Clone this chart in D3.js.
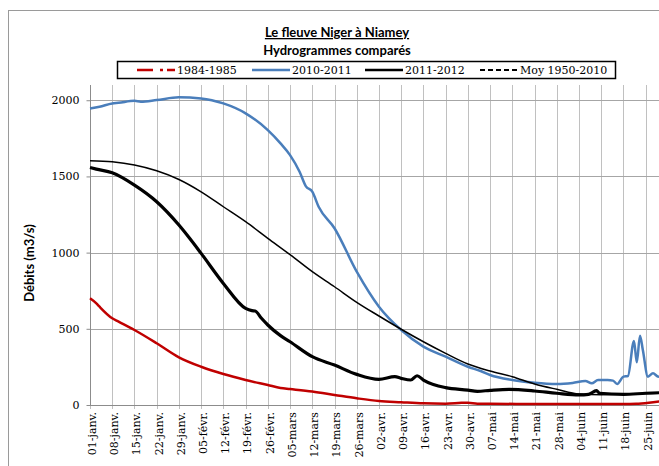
<!DOCTYPE html>
<html lang="fr">
<head>
    <meta charset="UTF-8">
    <title>Le fleuve Niger à Niamey</title>
    <script src="https://d3js.org/d3.v7.min.js"></script>
    <style>
        body {
            margin: 0;
            background: #fff;
        }
        svg {
            display: block;
        }
        .title {
            font-family: Lato, "Open Sans", sans-serif;
            font-weight: bold;
            font-size: 13px;
            fill: #000;
        }
        .num {
            font-family: "DejaVu Serif", serif;
            font-size: 11px;
            fill: #000;
        }
    </style>
</head>
<body>
    <svg id="chart" width="659" height="466"></svg>

    <script>
        // x labels: one every 7 days starting 01-janv.
        const tickLabels = ["01-janv.", "08-janv.", "15-janv.", "22-janv.", "29-janv.", "05-févr.",
            "12-févr.", "19-févr.", "26-févr.", "05-mars", "12-mars", "19-mars", "26-mars",
            "02-avr.", "09-avr.", "16-avr.", "23-avr.", "30-avr.", "07-mai", "14-mai",
            "21-mai", "28-mai", "04-juin", "11-juin", "18-juin", "25-juin"];
        const yTicks = [0, 500, 1000, 1500, 2000];

        // day offsets from 01-janv. and discharges (m3/s)
        const days1984 = [0, 2, 3, 7, 9, 14, 21, 28, 35, 42, 49, 56, 60, 63, 70, 77, 84, 91, 98, 105, 112, 117, 119, 122, 126, 140, 154, 168, 172, 176, 180];
        const vals1984 = [700, 667, 645, 569, 547, 492, 405, 313, 251, 203, 164, 131, 112, 105, 88, 66, 44, 26, 18, 11, 9, 14, 15, 9, 8, 7, 7, 6, 8, 15, 25];

        const days2010 = [0, 3, 7, 9, 14, 16, 21, 28, 35, 42, 49, 56, 60, 63, 66, 68, 70, 72, 77, 84, 91, 98, 105, 112, 119, 123, 126, 133, 140, 147, 152, 156, 158, 160, 163, 164.7, 166, 168, 169.4, 171.3, 172.2, 173.2, 174.1, 175.7, 177.3, 179, 180];
        const vals2010 = [1946, 1957, 1979, 1983, 1996, 1990, 2001, 2019, 2012, 1979, 1914, 1804, 1717, 1640, 1531, 1435, 1400, 1301, 1160, 875, 645, 492, 383, 317, 251, 223, 197, 164, 146, 138, 145, 157, 142, 164, 164, 160, 138, 186, 190, 420, 280, 455, 361, 186, 208, 186, 200];

        const days2011 = [0, 2, 7, 14, 21, 28, 31, 35, 42, 49, 51, 52, 54, 56, 60, 63, 70, 77, 84, 91, 96, 98, 101, 103, 105, 112, 119, 122, 126, 132, 140, 147, 154, 157, 159.5, 160.5, 168, 175, 180];
        const vals2011 = [1559, 1548, 1524, 1443, 1334, 1181, 1104, 995, 798, 634, 619, 617, 569, 525, 455, 415, 317, 262, 201, 168, 186, 175, 164, 192, 164, 114, 98, 90, 96, 102, 92, 77, 66, 70, 94, 77, 70, 77, 81];

        const daysMoy = [0, 7, 14, 21, 28, 35, 42, 49, 56, 63, 70, 77, 84, 91, 98, 105, 112, 119, 126, 133, 140, 147, 154, 161, 168, 175, 180];
        const valsMoy = [1603, 1596, 1575, 1537, 1480, 1399, 1301, 1203, 1094, 987, 875, 776, 674, 584, 497, 415, 339, 269, 223, 186, 138, 103, 72, 68, 70, 75, 78];

        const seriesNames = ["1984-1985", "2010-2011", "2011-2012", "Moy 1950-2010"];
        const seriesColors = ["#c00000", "#4a7ebb", "#000000", "#000000"];
        const seriesWidths = [2.5, 2.5, 3.2, 1.5];

        const svg = d3.select("#chart");

        // chart frame
        svg.append("rect")
            .attr("x", 8.5).attr("y", 10.5)
            .attr("width", 700).attr("height", 500)
            .attr("fill", "#fff")
            .attr("stroke", "#9a9a9a");

        const x = d3.scaleLinear().domain([0, 175]).range([90, 645.7]);
        const y = d3.scaleLinear().domain([0, 2100]).range([405, 85]);

        const tickDays = tickLabels.map((d, i) => i * 7);

        // vertical gridlines
        svg.append("g")
            .selectAll("line")
            .data(tickDays)
            .join("line")
            .attr("x1", d => Math.round(x(d)) + 0.5)
            .attr("x2", d => Math.round(x(d)) + 0.5)
            .attr("y1", y(2100))
            .attr("y2", y(0) + 4)
            .attr("stroke", "#c0c0c0")
            .attr("stroke-width", 1);

        // horizontal gridlines
        svg.append("g")
            .selectAll("line")
            .data(yTicks.filter(d => d > 0))
            .join("line")
            .attr("x1", x(0))
            .attr("x2", 659)
            .attr("y1", d => Math.round(y(d)) + 0.5)
            .attr("y2", d => Math.round(y(d)) + 0.5)
            .attr("stroke", "#a6a6a6");

        // axes
        const yAxis = d3.axisLeft(y).tickValues(yTicks).tickFormat(d3.format("d")).tickSize(4).tickPadding(7);
        const gy = svg.append("g")
            .attr("transform", `translate(${Math.round(x(0)) + 0.5},0)`)
            .call(yAxis)
            .attr("font-family", null)
            .attr("font-size", null);
        gy.select(".domain").attr("stroke", "#8c8c8c").attr("d", `M0,${y(2100)}V${y(0)}`);
        gy.selectAll(".tick line").attr("stroke", "#8c8c8c");
        gy.selectAll(".tick text").attr("class", "num");

        svg.append("line")
            .attr("x1", x(0)).attr("x2", 659)
            .attr("y1", Math.round(y(0)) + 0.5).attr("y2", Math.round(y(0)) + 0.5)
            .attr("stroke", "#8c8c8c");

        svg.append("g")
            .selectAll("text")
            .data(tickLabels)
            .join("text")
            .attr("class", "num")
            .attr("text-anchor", "end")
            .attr("dy", "0.35em")
            .attr("transform", (d, i) => `translate(${x(tickDays[i]) + 2},${y(0) + 7}) rotate(-90)`)
            .text(d => d);

        // y axis title
        svg.append("text")
            .attr("class", "title")
            .attr("font-size", "12px")
            .attr("text-anchor", "middle")
            .attr("transform", `translate(34,263) rotate(-90)`)
            .text("Débits (m3/s)");

        // series lines
        const line = d3.line()
            .x(d => x(d[0]))
            .y(d => y(d[1]))
            .curve(d3.curveMonotoneX);

        const series = [
            d3.zip(days1984, vals1984),
            d3.zip(days2010, vals2010),
            d3.zip(days2011, vals2011),
            d3.zip(daysMoy, valsMoy)
        ];
        const drawOrder = [0, 1, 3, 2];
        svg.append("g")
            .selectAll("path")
            .data(drawOrder)
            .join("path")
            .attr("d", i => line(series[i]))
            .attr("fill", "none")
            .attr("stroke", i => seriesColors[i])
            .attr("stroke-width", i => seriesWidths[i])
            .attr("stroke-linejoin", "round");

        // titles
        svg.append("text")
            .attr("class", "title")
            .attr("x", 337).attr("y", 37)
            .attr("text-anchor", "middle")
            .attr("text-decoration", "underline")
            .text("Le fleuve Niger à Niamey");
        svg.append("text")
            .attr("class", "title")
            .attr("x", 337).attr("y", 55)
            .attr("text-anchor", "middle")
            .text("Hydrogrammes comparés");

        // legend
        const legend = svg.append("g");
        legend.append("rect")
            .attr("x", 117.5).attr("y", 61.5)
            .attr("width", 498).attr("height", 17)
            .attr("fill", "#fff")
            .attr("stroke", "#000")
            .attr("stroke-width", 1.5);

        const legendX = [137, 252, 365, 480];
        const legendDash = ["16,7,3,4,10", null, null, "5,3"];
        seriesNames.forEach((name, i) => {
            legend.append("line")
                .attr("x1", legendX[i]).attr("x2", legendX[i] + 38)
                .attr("y1", 70).attr("y2", 70)
                .attr("stroke", seriesColors[i])
                .attr("stroke-width", i === 3 ? 2 : 2.5)
                .attr("stroke-dasharray", legendDash[i]);
            legend.append("text")
                .attr("class", "num")
                .attr("x", legendX[i] + 40).attr("y", 74)
                .text(name);
        });
    </script>
</body>
</html>
